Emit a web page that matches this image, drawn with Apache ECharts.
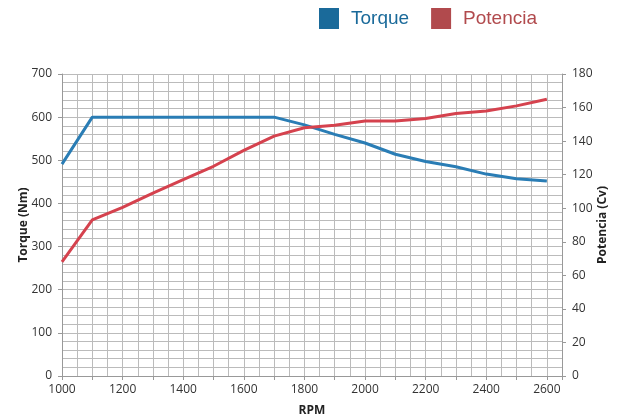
<!DOCTYPE html>
<html><head><meta charset="utf-8">
<script src="https://cdn.jsdelivr.net/npm/echarts@6/dist/echarts.min.js"></script>
<style>html,body{margin:0;padding:0;background:#fff}#c{width:620px;height:417px}</style>
</head><body><div id="c"></div>
<script>
const rpm = [1000,1100,1200,1300,1400,1500,1600,1700,1800,1900,2000,2100,2200,2300,2400,2500,2600];
const torque = [491,600,600,600,600,600,600,600,582,560,540,514,497,485,468,457,452];
const potencia = [68,93,100.5,109,117,125,134.5,143,148,149.5,152,152,153.5,156.5,158,161,165];

const chart = echarts.init(document.getElementById('c'));
const font = 'Open Sans';
chart.setOption({
  animation:false,
  textStyle:{fontFamily:font},
  legend:{
    top:3, left:314, itemWidth:20, itemHeight:21, itemGap:22,
    icon:'rect',
    textStyle:{fontSize:19, fontFamily:'Liberation Sans', padding:[0,0,0,7]},
    data:[
      {name:'Torque', itemStyle:{color:'#1a6a9a'}, textStyle:{color:'#1a6a9a'}},
      {name:'Potencia', itemStyle:{color:'#b14a4d'}, textStyle:{color:'#b14a4d'}}
    ]
  },
  grid:{left:62, right:58, top:74, bottom:41, outerBoundsMode:'none', containLabel:false},
  xAxis:{
    type:'value', min:1000, max:2650, interval:100,
    name:'RPM', nameLocation:'middle', nameGap:29, nameMoveOverlap:false,
    nameTextStyle:{fontWeight:'bold', fontSize:12, color:'#222'},
    axisLine:{show:true, lineStyle:{color:'#999'}},
    axisTick:{show:true, length:4, lineStyle:{color:'#999'}},
    axisLabel:{fontSize:12, color:'#333', margin:8, formatter:v=> (v%200===0 && v<=2600)? String(v):''},
    splitLine:{show:true, lineStyle:{color:'#bbb'}},
    minorTick:{show:false, splitNumber:2},
    minorSplitLine:{show:true, lineStyle:{color:'#bbb'}}
  },
  yAxis:[{
    type:'value', min:0, max:700, interval:100,
    name:'Torque (Nm)', nameLocation:'middle', nameGap:32, nameRotate:90, nameMoveOverlap:false,
    nameTextStyle:{fontWeight:'bold', fontSize:12, color:'#222'},
    axisLine:{show:true, lineStyle:{color:'#999'}},
    axisTick:{show:true, length:4, lineStyle:{color:'#999'}},
    axisLabel:{fontSize:12, color:'#333', margin:10},
    splitLine:{show:true, lineStyle:{color:'#bbb'}},
    minorTick:{show:false, splitNumber:5},
    minorSplitLine:{show:true, lineStyle:{color:'#bbb'}}
  },{
    type:'value', min:0, max:180, interval:20, position:'right',
    name:'Potencia (Cv)', nameLocation:'middle', nameGap:35, nameRotate:90, nameMoveOverlap:false,
    nameTextStyle:{fontWeight:'bold', fontSize:12, color:'#222'},
    axisLine:{show:true, lineStyle:{color:'#999'}},
    axisTick:{show:true, length:4, lineStyle:{color:'#999'}},
    axisLabel:{fontSize:12, color:'#333', margin:10},
    splitLine:{show:false}
  }],
  series:[
    {name:'Torque', type:'line', yAxisIndex:0, showSymbol:false,
     data:rpm.map((r,i)=>[r,torque[i]]),
     lineStyle:{color:'#2a7db5', width:3}, itemStyle:{color:'#1a6a9a'}},
    {name:'Potencia', type:'line', yAxisIndex:1, showSymbol:false,
     data:rpm.map((r,i)=>[r,potencia[i]]),
     lineStyle:{color:'#d5424e', width:3}, itemStyle:{color:'#b14a4d'}}
  ]
});
</script></body></html>
